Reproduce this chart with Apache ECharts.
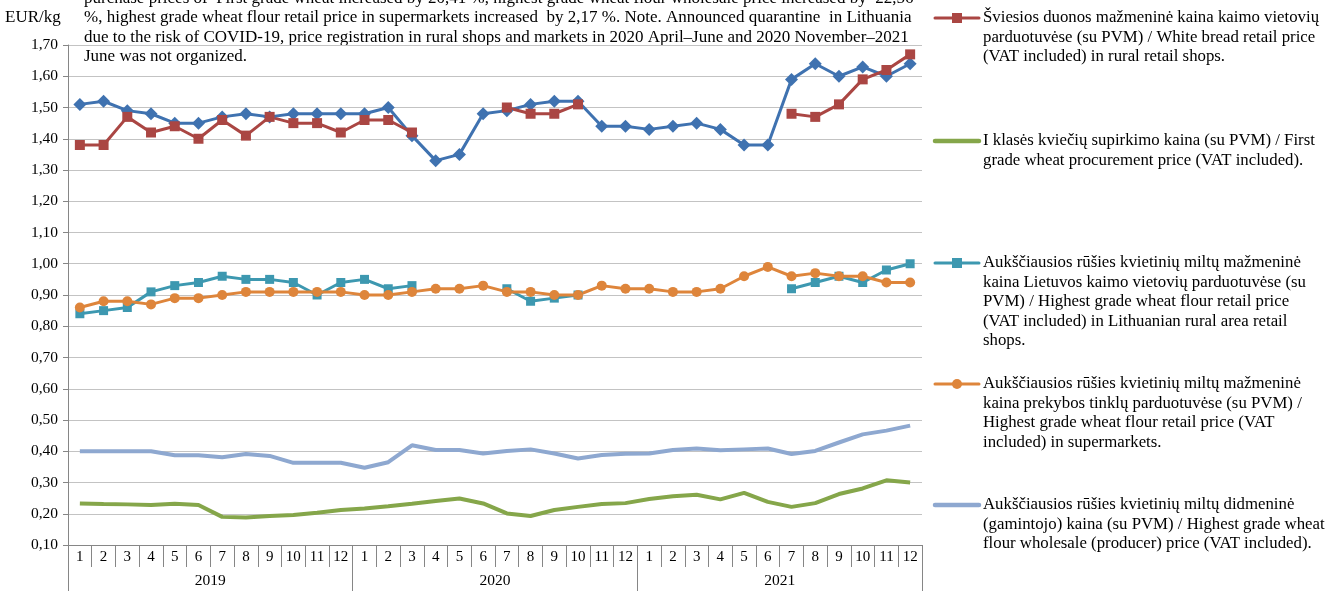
<!DOCTYPE html>
<html>
<head>
<meta charset="utf-8">
<title>Grūdų, miltų ir duonos kainos 2019–2021</title>
<script src="https://cdn.jsdelivr.net/npm/echarts@6/dist/echarts.min.js"></script>
<style>
  html, body { margin: 0; padding: 0; background: #fff; }
  #chart { width: 1328px; height: 591px; }
</style>
</head>
<body>
<div id="chart"></div>
<script>
// Axis labels
const years = ['2019', '2020', '2021'];
const months = ['1', '2', '3', '4', '5', '6', '7', '8', '9', '10', '11', '12'];

// Prices, EUR/kg, monthly 2019-01 … 2021-12 (null = not registered)
const breadSupermarkets = [
  1.51, 1.52, 1.49, 1.48, 1.45, 1.45, 1.47, 1.48, 1.47, 1.48, 1.48, 1.48,
  1.48, 1.50, 1.41, 1.33, 1.35, 1.48, 1.49, 1.51, 1.52, 1.52, 1.44, 1.44,
  1.43, 1.44, 1.45, 1.43, 1.38, 1.38, 1.59, 1.64, 1.60, 1.63, 1.60, 1.64
];
const breadRural = [
  1.38, 1.38, 1.47, 1.42, 1.44, 1.40, 1.46, 1.41, 1.47, 1.45, 1.45, 1.42,
  1.46, 1.46, 1.42, null, null, null, 1.50, 1.48, 1.48, 1.51, null, null,
  null, null, null, null, null, null, 1.48, 1.47, 1.51, 1.59, 1.62, 1.67
];
const wheatProcurement = [
  0.233, 0.231, 0.230, 0.228, 0.232, 0.228, 0.190, 0.188, 0.193, 0.196, 0.203, 0.212,
  0.217, 0.224, 0.232, 0.241, 0.249, 0.233, 0.201, 0.193, 0.212, 0.222, 0.231, 0.234,
  0.247, 0.256, 0.261, 0.246, 0.267, 0.238, 0.222, 0.234, 0.263, 0.281, 0.307, 0.300
];
const flourRural = [
  0.84, 0.85, 0.86, 0.91, 0.93, 0.94, 0.96, 0.95, 0.95, 0.94, 0.90, 0.94,
  0.95, 0.92, 0.93, null, null, null, 0.92, 0.88, 0.89, 0.90, null, null,
  null, null, null, null, null, null, 0.92, 0.94, 0.96, 0.94, 0.98, 1.00
];
const flourSupermarkets = [
  0.86, 0.88, 0.88, 0.87, 0.89, 0.89, 0.90, 0.91, 0.91, 0.91, 0.91, 0.91,
  0.90, 0.90, 0.91, 0.92, 0.92, 0.93, 0.91, 0.91, 0.90, 0.90, 0.93, 0.92,
  0.92, 0.91, 0.91, 0.92, 0.96, 0.99, 0.96, 0.97, 0.96, 0.96, 0.94, 0.94
];
const flourWholesale = [
  0.400, 0.400, 0.400, 0.400, 0.387, 0.387, 0.381, 0.391, 0.385, 0.363, 0.363, 0.363,
  0.347, 0.365, 0.419, 0.404, 0.404, 0.393, 0.401, 0.406, 0.393, 0.377, 0.388, 0.392,
  0.393, 0.404, 0.409, 0.403, 0.406, 0.409, 0.391, 0.401, 0.428, 0.454, 0.466, 0.482
];

const categories = [];
years.forEach(y => months.forEach(m => categories.push(y + '-' + m)));

const COLORS = {
  breadSupermarkets: '#3f72b0',
  breadRural: '#aa4643',
  wheat: '#85a64a',
  flourRural: '#3d98b0',
  flourSuper: '#de853b',
  flourWholesale: '#8ea8d0'
};

// Legend entries: series key, marker, first-line y, text
const legendItems = [
  { key: 'breadRural', marker: 'rect', y: 18,
    text: 'Šviesios duonos mažmeninė kaina kaimo vietovių\nparduotuvėse (su PVM) / White bread retail price\n(VAT included) in rural retail shops.' },
  { key: 'wheat', marker: null, y: 141,
    text: 'I klasės kviečių supirkimo kaina (su PVM) / First\ngrade wheat procurement price (VAT included).' },
  { key: 'flourRural', marker: 'rect', y: 263,
    text: 'Aukščiausios rūšies kvietinių miltų mažmeninė\nkaina Lietuvos kaimo vietovių parduotuvėse (su\nPVM) / Highest grade wheat flour retail price\n(VAT included) in Lithuanian rural area retail\nshops.' },
  { key: 'flourSuper', marker: 'circle', y: 384,
    text: 'Aukščiausios rūšies kvietinių miltų mažmeninė\nkaina prekybos tinklų parduotuvėse (su PVM) /\nHighest grade wheat flour retail price (VAT\nincluded) in supermarkets.' },
  { key: 'flourWholesale', marker: null, y: 505,
    text: 'Aukščiausios rūšies kvietinių miltų didmeninė\n(gamintojo) kaina (su PVM) / Highest grade wheat\nflour wholesale (producer) price (VAT included).' }
];

const noteText = [
  'purchase prices of  First grade wheat increased by 20,41 %, highest grade wheat flour wholesale price increased by  22,56',
  '%, highest grade wheat flour retail price in supermarkets increased  by 2,17 %. Note. Announced quarantine  in Lithuania',
  'due to the risk of COVID-19, price registration in rural shops and markets in 2020 April–June and 2020 November–2021',
  'June was not organized.'
].join('\n');

const FONT = 'Liberation Serif';
const TEXT_SIZE = 16.8;
const NOTE_SIZE = 17;
const LH = 19.5;
const GREY = '#868686';

function legendGraphics() {
  const out = [];
  legendItems.forEach(it => {
    const c = COLORS[it.key];
    out.push({
      type: 'line',
      shape: { x1: 935, y1: it.y, x2: 979, y2: it.y },
      style: { stroke: c, lineWidth: it.marker ? 3 : 4.5, lineCap: 'round' }
    });
    if (it.marker === 'rect') {
      out.push({ type: 'rect', shape: { x: 952, y: it.y - 5, width: 10, height: 10 }, style: { fill: c } });
    } else if (it.marker === 'circle') {
      out.push({ type: 'circle', shape: { cx: 957, cy: it.y, r: 5 }, style: { fill: c } });
    }
    out.push({
      type: 'text', x: 983, y: it.y - LH / 2,
      style: {
        text: it.text, fontFamily: FONT, fontSize: TEXT_SIZE, lineHeight: LH,
        fill: '#000', verticalAlign: 'top'
      }
    });
  });
  return out;
}

const chart = echarts.init(document.getElementById('chart'), null, { renderer: 'canvas' });

chart.setOption({
  animation: false,
  backgroundColor: '#fff',
  grid: { left: 68, right: 406, top: 45, bottom: 46, containLabel: false },
  graphic: [
    {
      type: 'text', x: 5, y: 18 - LH / 2,
      style: { text: 'EUR/kg', fontFamily: FONT, fontSize: NOTE_SIZE, lineHeight: LH, fill: '#000', verticalAlign: 'top' }
    },
    {
      type: 'text', x: 84, y: -1.5 - LH / 2,
      style: {
        text: noteText, fontFamily: FONT, fontSize: NOTE_SIZE, lineHeight: LH,
        fill: '#000', verticalAlign: 'top'
      }
    }
  ].concat(legendGraphics()),
  xAxis: [
    {
      type: 'category',
      data: categories,
      boundaryGap: true,
      axisLine: { show: true, lineStyle: { color: GREY, width: 1 } },
      axisTick: { show: true, interval: 0, length: 22, lineStyle: { color: GREY } },
      axisLabel: {
        interval: 0, margin: 5, fontFamily: FONT, fontSize: 15, color: '#000',
        formatter: v => v.split('-')[1]
      },
      splitLine: { show: false }
    },
    {
      type: 'category',
      data: years,
      position: 'bottom',
      boundaryGap: true,
      axisLine: { show: false },
      axisTick: { show: true, interval: 0, length: 46, lineStyle: { color: GREY } },
      axisLabel: { interval: 0, margin: 28, fontFamily: FONT, fontSize: 15.5, color: '#000' },
      splitLine: { show: false }
    }
  ],
  yAxis: {
    type: 'value',
    min: 0.1,
    max: 1.7,
    interval: 0.1,
    axisLine: { show: true, lineStyle: { color: GREY } },
    axisTick: { show: true, length: 5, lineStyle: { color: GREY } },
    axisLabel: {
      margin: 10, fontFamily: FONT, fontSize: 15.5, color: '#000',
      formatter: v => v.toFixed(2).replace('.', ',')
    },
    splitLine: { show: true, lineStyle: { color: '#c3c3c3', width: 1 } }
  },
  series: [
    {
      name: 'breadSupermarkets', type: 'line', data: breadSupermarkets,
      symbol: 'diamond', symbolSize: 13,
      lineStyle: { color: COLORS.breadSupermarkets, width: 3 },
      itemStyle: { color: COLORS.breadSupermarkets }
    },
    {
      name: 'breadRural', type: 'line', data: breadRural,
      symbol: 'rect', symbolSize: 10,
      lineStyle: { color: COLORS.breadRural, width: 3 },
      itemStyle: { color: COLORS.breadRural }
    },
    {
      name: 'wheat', type: 'line', data: wheatProcurement,
      symbol: 'none', showSymbol: false,
      lineStyle: { color: COLORS.wheat, width: 4 },
      itemStyle: { color: COLORS.wheat }
    },
    {
      name: 'flourRural', type: 'line', data: flourRural,
      symbol: 'rect', symbolSize: 9,
      lineStyle: { color: COLORS.flourRural, width: 3 },
      itemStyle: { color: COLORS.flourRural }
    },
    {
      name: 'flourSuper', type: 'line', data: flourSupermarkets,
      symbol: 'circle', symbolSize: 10,
      lineStyle: { color: COLORS.flourSuper, width: 3 },
      itemStyle: { color: COLORS.flourSuper }
    },
    {
      name: 'flourWholesale', type: 'line', data: flourWholesale,
      symbol: 'none', showSymbol: false,
      lineStyle: { color: COLORS.flourWholesale, width: 4 },
      itemStyle: { color: COLORS.flourWholesale }
    }
  ]
});
</script>
</body>
</html>
